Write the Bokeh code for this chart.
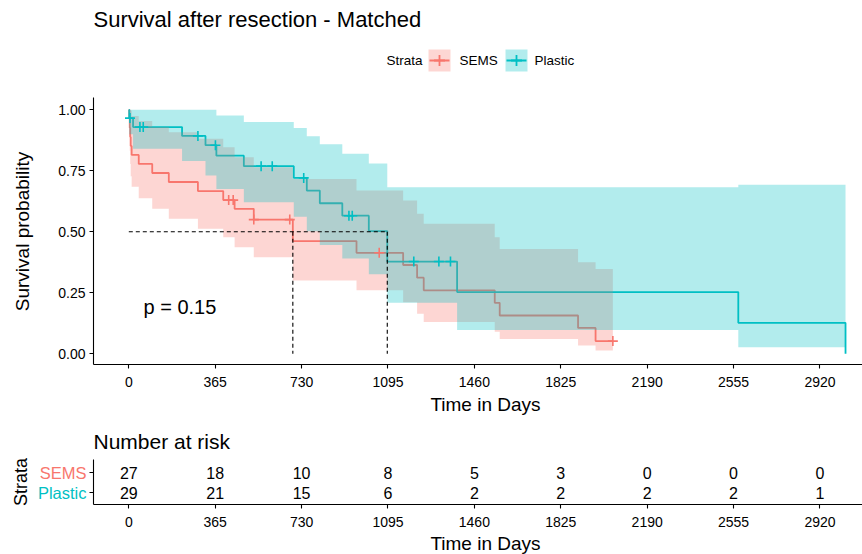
import math
from bokeh.plotting import figure
from bokeh.models import (FixedTicker, NumeralTickFormatter, Range1d, LinearAxis,
                          CustomJSTickFormatter)
from bokeh.core.properties import value
from bokeh.embed import file_html
from bokeh.resources import INLINE

# ---------------- data ----------------
sems_times = [0, 2, 4, 6, 8, 12, 42, 99, 169, 292, 399, 447, 528, 693, 962, 1159, 1218, 1246, 1546, 1567, 1898, 1972]
sems_surv = [1.0, 0.963, 0.926, 0.889, 0.852, 0.815, 0.778, 0.741, 0.704, 0.667, 0.630, 0.594, 0.550, 0.462, 0.414, 0.364, 0.312, 0.260, 0.209, 0.157, 0.106, 0.052]
sems_upper = [1.0, 1.0, 1.0, 1.0, 0.997, 0.975, 0.954, 0.930, 0.908, 0.881, 0.847, 0.806, 0.765, 0.716, 0.669, 0.628, 0.574, 0.533, 0.478, 0.430, 0.375, 0.348]
sems_lower = [1.0, 0.894, 0.832, 0.778, 0.728, 0.685, 0.638, 0.594, 0.553, 0.512, 0.478, 0.437, 0.396, 0.300, 0.260, 0.211, 0.164, 0.130, 0.090, 0.061, 0.034, 0.014]
sems_end = 2045
sems_censor = [422, 441, 528, 680, 1058, 2045]

plastic_times = [0, 2, 18, 225, 324, 370, 486, 697, 752, 807, 902, 1014, 1092, 1387, 2575, 3028]
plastic_surv = [1.0, 0.966, 0.929, 0.893, 0.855, 0.812, 0.769, 0.721, 0.669, 0.617, 0.566, 0.503, 0.378, 0.253, 0.127, 0.0]
plastic_upper = [1.0, 1.0, 1.0, 1.0, 1.0, 0.977, 0.950, 0.925, 0.892, 0.859, 0.820, 0.780, 0.683, 0.683, 0.693]
plastic_lower = [1.0, 0.900, 0.840, 0.790, 0.731, 0.675, 0.621, 0.562, 0.502, 0.446, 0.391, 0.326, 0.209, 0.098, 0.027]
plastic_end = 3028
plastic_censor = [5, 47, 61, 292, 366, 559, 606, 739, 930, 944, 1204, 1310, 1359]

median_times = [693, 1092]
p_value_text = "p = 0.15"

risk_times = [0, 365, 730, 1095, 1460, 1825, 2190, 2555, 2920]
risk_sems = [27, 18, 10, 8, 5, 3, 0, 0, 0]
risk_plastic = [29, 21, 15, 6, 2, 2, 2, 2, 1]
y_ticks = [0, 0.25, 0.5, 0.75, 1.0]

strata_names = ["SEMS", "Plastic"]
RED = "#F8766D"
TEAL = "#00BFC4"
FONT_NAME = "Liberation Sans"
FONT = value(FONT_NAME)

# ---------------- page geometry (page pixels -> data) ----------------
W, H = 862, 554
X0_PX, PX_PER_DAY = 128.3, 0.2367
Y0_PX, PX_PER_UNIT = 353.3, 244.0
PANEL_L = 93          # left edge of both panels
MAIN_BOTTOM = 364     # main panel x-axis
TABLE_TOP, TABLE_BOTTOM = 459, 504
ROW_PX = {"SEMS": 472, "Plastic": 492}


def xd(px):
    return (px - X0_PX) / PX_PER_DAY


def yd(py):
    return (Y0_PX - py) / PX_PER_UNIT


def stairs(times, vals, t_end):
    xs, ys = [], []
    for i, v in enumerate(vals):
        t0 = times[i]
        t1 = times[i + 1] if i + 1 < len(times) else t_end
        xs += [t0, t1]
        ys += [v, v]
    return xs, ys


def step_at(times, vals, t):
    v = vals[0]
    for ti, vi in zip(times, vals):
        if ti <= t:
            v = vi
    return v


def style_axis(ax, size="14px"):
    ax.axis_line_color = "black"
    ax.axis_line_width = 1.1
    ax.major_tick_line_color = "black"
    ax.major_tick_line_width = 1.1
    ax.major_tick_out = 4
    ax.major_tick_in = 0
    ax.minor_tick_line_color = None
    ax.major_label_text_font = FONT_NAME
    ax.major_label_text_font_size = size
    ax.major_label_text_color = "black"


def label(x, y, txt, size, align="left", color="black", angle=0.0):
    p.text(x=[x], y=[y], text=[txt], text_font=FONT, text_font_size=size, text_align=align,
           text_baseline="middle", text_color=color, angle=angle)


p = figure(width=W, height=H, output_backend="svg", toolbar_location=None,
           x_range=Range1d(xd(0), xd(W)), y_range=Range1d(yd(H), yd(0)),
           min_border_left=0, min_border_right=0, min_border_top=0, min_border_bottom=0)
p.xgrid.visible = False
p.ygrid.visible = False
p.outline_line_color = None
p.background_fill_color = "white"
p.border_fill_color = "white"

# ---- main panel axes (library axes at fixed locations) ----
xa = p.xaxis[0]
style_axis(xa)
xa.fixed_location = yd(MAIN_BOTTOM)
xa.ticker = FixedTicker(ticks=risk_times)
xa.bounds = (xd(PANEL_L), xd(W))
xa.major_label_standoff = 8

ya = p.yaxis[0]
style_axis(ya)
ya.fixed_location = xd(PANEL_L)
ya.ticker = FixedTicker(ticks=y_ticks)
ya.formatter = NumeralTickFormatter(format="0.00")
ya.bounds = (yd(MAIN_BOTTOM), 1.05)
ya.major_label_standoff = 4

# ---- survival lines (below the ribbons, as in ggplot) ----
sx, sy = stairs(sems_times, sems_surv, sems_end)
px_, py_ = stairs(plastic_times, plastic_surv, plastic_end)
p.line(sx, sy, line_color=RED, line_width=1.8)
p.line(px_, py_, line_color=TEAL, line_width=1.8)

# ---- confidence ribbons ----
rx, rlo = stairs(sems_times, sems_lower, sems_end)
_, rhi = stairs(sems_times, sems_upper, sems_end)
p.varea(x=rx, y1=rlo, y2=rhi, fill_color=RED, fill_alpha=0.3)
tx, tlo = stairs(plastic_times[:-1], plastic_lower, plastic_end)
_, thi = stairs(plastic_times[:-1], plastic_upper, plastic_end)
p.varea(x=tx, y1=tlo, y2=thi, fill_color=TEAL, fill_alpha=0.3)

# ---- censor marks ----
p.scatter(sems_censor, [step_at(sems_times, sems_surv, t) for t in sems_censor],
          marker="cross", size=10, line_color=RED, line_width=1.6)
p.scatter(plastic_censor, [step_at(plastic_times, plastic_surv, t) for t in plastic_censor],
          marker="cross", size=10, line_color=TEAL, line_width=1.6)

# ---- median lines ----
p.line([0, max(median_times)], [0.5, 0.5], line_color="black", line_dash="4 3", line_width=1.1)
p.segment(x0=median_times, y0=[0.5] * len(median_times), x1=median_times, y1=[0] * len(median_times),
          line_color="black", line_dash="4 3", line_width=1.1)

# ---- texts of the main panel ----
label(xd(143), yd(306.5), p_value_text, "20px")
label(xd(93), yd(19), "Survival after resection - Matched", "22px")
label(xd(22), yd(231), "Survival probability", "19px", align="center", angle=math.pi / 2)
label(xd(485), yd(404), "Time in Days", "19px", align="center")

# ---- legend ----
leg_y = yd(60)
label(xd(386), leg_y, "Strata", "13.5px")
key_x = [xd(439), xd(516)]
p.rect(x=key_x, y=[leg_y, leg_y], width=22, height=22, width_units="screen", height_units="screen",
       fill_color=[RED, TEAL], fill_alpha=0.3, line_color=None)
p.scatter(x=key_x, y=[leg_y, leg_y], marker="dash", size=20, line_color=[RED, TEAL], line_width=1.8)
p.scatter(x=key_x, y=[leg_y, leg_y], marker="cross", size=11, line_color=[RED, TEAL], line_width=1.8)
p.text(x=[xd(459), xd(534)], y=[leg_y, leg_y], text=strata_names, text_font=FONT,
       text_font_size="13.5px", text_align="left", text_baseline="middle", text_color="black")

# ---------------- risk table ----------------
row_sems = yd(ROW_PX["SEMS"])
row_plastic = yd(ROW_PX["Plastic"])

rxa = LinearAxis(fixed_location=yd(TABLE_BOTTOM), ticker=FixedTicker(ticks=risk_times),
                 bounds=(xd(PANEL_L), xd(W)))
style_axis(rxa)
rxa.major_label_standoff = 8
p.add_layout(rxa, "below")

rya = LinearAxis(fixed_location=xd(PANEL_L), ticker=FixedTicker(ticks=[row_plastic, row_sems]),
                 bounds=(yd(TABLE_BOTTOM), yd(TABLE_TOP)),
                 formatter=CustomJSTickFormatter(code="return ''"))
style_axis(rya)
p.add_layout(rya, "left")

label(xd(93), yd(441), "Number at risk", "21px")
label(xd(20), yd((TABLE_TOP + TABLE_BOTTOM) / 2), "Strata", "18px", align="center", angle=math.pi / 2)
label(xd(86), row_sems, "SEMS", "16.5px", align="right", color=RED)
label(xd(86), row_plastic, "Plastic", "16.5px", align="right", color=TEAL)
p.text(x=risk_times, y=[row_sems] * len(risk_times), text=[str(v) for v in risk_sems], text_font=FONT,
       text_font_size="16px", text_align="center", text_baseline="middle", text_color="black")
p.text(x=risk_times, y=[row_plastic] * len(risk_times), text=[str(v) for v in risk_plastic],
       text_font=FONT, text_font_size="16px", text_align="center", text_baseline="middle",
       text_color="black")
label(xd(485), yd(543), "Time in Days", "19px", align="center")

open("out.html", "w").write(file_html(p, INLINE))
